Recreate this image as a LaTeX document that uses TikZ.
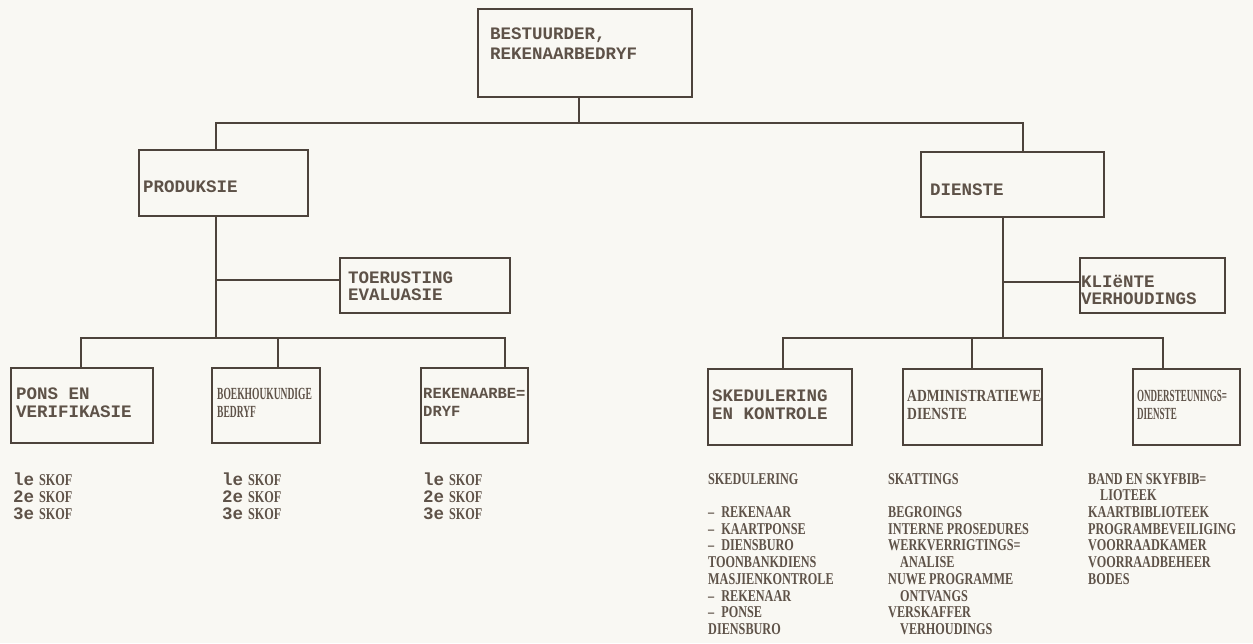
\documentclass[tikz,border=0pt]{standalone}
\usepackage{fontspec}
\newfontfamily\twfont{Liberation Mono}
\newfontfamily\prfont[FakeStretch=0.74]{Liberation Serif}
\newfontfamily\prwide[FakeStretch=0.8]{Liberation Serif}
\newfontfamily\prnarrow[FakeStretch=0.56]{Liberation Serif}
\newfontfamily\prnarrower[FakeStretch=0.53]{Liberation Serif}
\definecolor{paper}{HTML}{F9F8F3}
\definecolor{ink}{HTML}{4D433B}
\definecolor{type}{HTML}{5E5248}
\tikzset{
  wire/.style={draw=ink, line width=2.2pt, line cap=rect},
  box/.style={draw=ink, line width=2.2pt, inner sep=0pt, rectangle},
  tw/.style={text=type, inner sep=0pt, anchor=north west, align=left,
    font=\twfont\bfseries\fontsize{17.5}{18}\selectfont},
  boxpr/.style={text=type, inner sep=0pt, anchor=north west, align=left,
    font=\prwide\bfseries\fontsize{17}{18}\selectfont},
  lst/.style={text=type, inner sep=0pt, anchor=north west, align=left,
    font=\prfont\bfseries\fontsize{16.5}{16.7}\selectfont},
}
\newcommand\ind{\hspace*{12pt}}
\newcommand\dsh{–\hspace{7pt}}
\newcommand\skof[1]{{\twfont\fontsize{17.5}{16.7}\selectfont #1}\hspace{5pt}SKOF}
\begin{document}
\begin{tikzpicture}[x=1pt,y=-1pt]
\fill[paper] (0,0) rectangle (1253,643);
\useasboundingbox (0,0) rectangle (1253,643);

% ---- boxes ----
\node[box, minimum width=214pt, minimum height=88pt] (top)  at (585,53)    {};
\node[box, minimum width=169pt, minimum height=66pt] (prod) at (223.5,183) {};
\node[box, minimum width=183pt, minimum height=65pt] (dien) at (1012.5,184.5) {};
\node[box, minimum width=170pt, minimum height=55pt] (toer) at (425,285.5) {};
\node[box, minimum width=145pt, minimum height=55pt] (klie) at (1152.5,285.5) {};
\node[box, minimum width=142pt, minimum height=75pt] (pons) at (82,405.5) {};
\node[box, minimum width=108pt, minimum height=75pt] (boek) at (266,405.5) {};
\node[box, minimum width=107pt, minimum height=75pt] (reke) at (474.5,405.5) {};
\node[box, minimum width=144pt, minimum height=76pt] (sked) at (780,407) {};
\node[box, minimum width=139pt, minimum height=76pt] (admi) at (972.5,407) {};
\node[box, minimum width=107pt, minimum height=76pt] (onde) at (1186.5,407) {};

% ---- box texts ----
\node[tw, font=\twfont\bfseries\fontsize{17.5}{20}\selectfont] (topT) at (490,28) {BESTUURDER,\\REKENAARBEDRYF};
\node[tw] (prodT) at (143,181) {PRODUKSIE};
\node[tw] (dienT) at (930,184) {DIENSTE};
\node[tw, font=\twfont\bfseries\fontsize{17.5}{17}\selectfont] (toerT) at (348,272) {TOERUSTING\\EVALUASIE};
\node[tw, font=\twfont\bfseries\fontsize{17.5}{17}\selectfont] (klieT) at (1081,275) {KLIëNTE\\VERHOUDINGS};
\node[tw] (ponsT) at (16,388)  {PONS EN\\VERIFIKASIE};
\node[boxpr, font=\prnarrow\bfseries\fontsize{17}{18}\selectfont] (boekT) at (217,388) {BOEKHOUKUNDIGE\\BEDRYF};
\node[tw, font=\twfont\bfseries\fontsize{15.5}{18}\selectfont] (rekeT) at (423,388) {REKENAARBE=\\DRYF};
\node[tw] (skedT) at (712,390) {SKEDULERING\\EN KONTROLE};
\node[boxpr] (admiT) at (907,390) {ADMINISTRATIEWE\\DIENSTE};
\node[boxpr, font=\prnarrower\bfseries\fontsize{17}{18}\selectfont] (ondeT) at (1137,390) {ONDERSTEUNINGS=\\DIENSTE};

% ---- connectors ----
\coordinate (jT) at (579,123);
\coordinate (jL) at (216,123);
\coordinate (jR) at (1023,123);
\draw[wire] (top.south -| jT) -- (jT);
\draw[wire] (jL) -- (jR);
\draw[wire] (jL) -- (jL |- prod.north);
\draw[wire] (jR) -- (jR |- dien.north);

\coordinate (pBr) at (216,280);
\coordinate (pBus) at (216,338);
\coordinate (p1) at (81,338);
\coordinate (p2) at (278,338);
\coordinate (p3) at (505,338);
\draw[wire] (prod.south -| pBus) -- (pBus);
\draw[wire] (pBr) -- (pBr -| toer.west);
\draw[wire] (p1) -- (p3);
\draw[wire] (p1) -- (p1 |- pons.north);
\draw[wire] (p2) -- (p2 |- boek.north);
\draw[wire] (p3) -- (p3 |- reke.north);

\coordinate (dBr) at (1003,282);
\coordinate (dBus) at (1003,338);
\coordinate (d1) at (783,338);
\coordinate (d2) at (972,338);
\coordinate (d3) at (1163,338);
\draw[wire] (dien.south -| dBus) -- (dBus);
\draw[wire] (dBr) -- (dBr -| klie.west);
\draw[wire] (d1) -- (d3);
\draw[wire] (d1) -- (d1 |- sked.north);
\draw[wire] (d2) -- (d2 |- admi.north);
\draw[wire] (d3) -- (d3 |- onde.north);

% ---- shift lists ----
\node[lst] (ponsL) at (13,473)  {\skof{le}\\\skof{2e}\\\skof{3e}};
\node[lst] (boekL) at (222,473) {\skof{le}\\\skof{2e}\\\skof{3e}};
\node[lst] (rekeL) at (423,473) {\skof{le}\\\skof{2e}\\\skof{3e}};

% ---- service lists ----
\node[lst] (skedL) at (708,473) {SKEDULERING\\[16.7pt]
  \dsh REKENAAR\\ \dsh KAARTPONSE\\ \dsh DIENSBURO\\
  TOONBANKDIENS\\ MASJIENKONTROLE\\ \dsh REKENAAR\\ \dsh PONSE\\ DIENSBURO};
\node[lst] (admiL) at (888,473) {SKATTINGS\\[16.7pt]
  BEGROINGS\\ INTERNE PROSEDURES\\ WERKVERRIGTINGS=\\ \ind ANALISE\\
  NUWE PROGRAMME\\ \ind ONTVANGS\\ VERSKAFFER\\ \ind VERHOUDINGS};
\node[lst] (ondeL) at (1088,473) {BAND EN SKYFBIB=\\ \ind LIOTEEK\\
  KAARTBIBLIOTEEK\\ PROGRAMBEVEILIGING\\ VOORRAADKAMER\\ VOORRAADBEHEER\\ BODES};
\end{tikzpicture}
\end{document}
